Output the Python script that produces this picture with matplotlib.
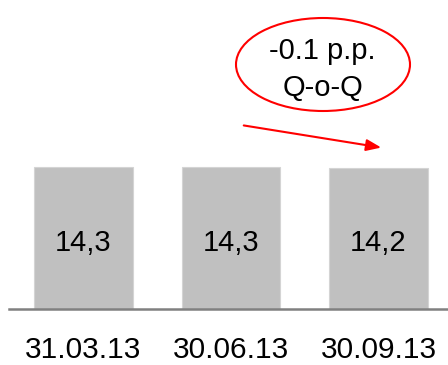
import matplotlib
matplotlib.use("Agg")
import matplotlib.pyplot as plt
from matplotlib.patches import Ellipse

plt.rcParams["font.family"] = ["Liberation Sans", "DejaVu Sans"]

dates = ["31.03.13", "30.06.13", "30.09.13"]
values = [14.3, 14.3, 14.2]
value_labels = ["14,3", "14,3", "14,2"]
note_lines = ["-0.1 p.p.", "Q-o-Q"]

W, H = 448, 365
fig = plt.figure(figsize=(W / 100, H / 100), dpi=100, facecolor="white")

# main bar axes: baseline at y=309 px, starts at x=9 px
ax = fig.add_axes([9 / W, (H - 309) / H, (W - 9) / W, 309 / H])
x = list(range(len(values)))
ax.bar(x, values, width=0.67, color="#c0c0c0", edgecolor="#d4d4d4", linewidth=0.8)
for i, lab in enumerate(value_labels):
    # baseline of the label sits ~41% of the bar height up
    ax.text(i, 14.3 * 0.41, lab, ha="center", va="baseline", fontsize=21, color="black")

ax.set_xlim(-0.505, 2.471)
ax.set_ylim(0, 31.1)
ax.set_xticks([])
ax.set_yticks([])
# category labels under the axis line (x in data, y in axes fraction)
for i, d in enumerate(dates):
    ax.text(i, -49 / 309, d, transform=ax.get_xaxis_transform(),
            ha="center", va="baseline", fontsize=21.5, color="black")
for s in ["top", "right", "left"]:
    ax.spines[s].set_visible(False)
ax.spines["bottom"].set_color("#808080")
ax.spines["bottom"].set_linewidth(1.8)

# overlay in pixel coordinates for the callout
ov = fig.add_axes([0, 0, 1, 1], facecolor="none")
ov.set_xlim(0, W)
ov.set_ylim(H, 0)
ov.axis("off")
ov.add_patch(Ellipse((323, 64.5), 174, 93, fill=False, edgecolor="red", linewidth=1.5))
ov.text(322, 59, note_lines[0], ha="center", va="baseline", fontsize=21)
ov.text(323, 96, note_lines[1], ha="center", va="baseline", fontsize=21)
ov.annotate("", xy=(384, 148), xytext=(241, 125),
            arrowprops=dict(arrowstyle="-|>,head_length=0.9,head_width=0.35",
                            color="red", linewidth=1.5))

fig.savefig("out.png", dpi=100, facecolor="white")
